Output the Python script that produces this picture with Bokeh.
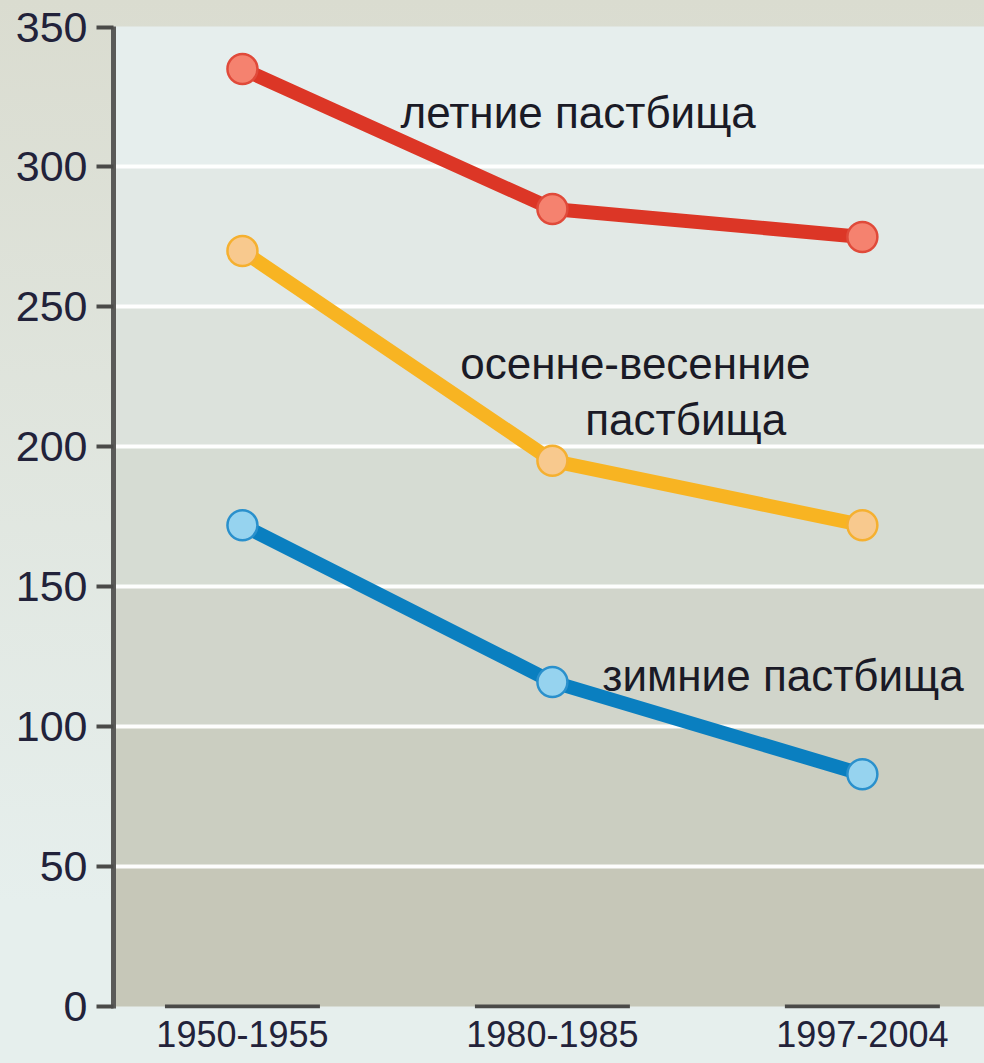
from bokeh.plotting import figure
from bokeh.models import FixedTicker, Range1d
from bokeh.core.properties import value
from bokeh.embed import file_html
from bokeh.resources import INLINE

# ---- data ----
periods = ["1950-1955", "1980-1985", "1997-2004"]
summer = [335, 285, 275]
spring_autumn = [270, 195, 172]
winter = [172, 116, 83]
y_ticks = [0, 50, 100, 150, 200, 250, 300, 350]
grid_ticks = [50, 100, 150, 200, 250, 300]
band_colors = ["#c6c7b8", "#cbcec1", "#d1d5cb", "#d6dcd3", "#dce2dc", "#e2e9e6", "#e6eeed"]

xs = list(range(len(periods)))

p = figure(width=984, height=1063, output_backend="svg", toolbar_location=None,
           x_range=Range1d(-0.416, 2.394), y_range=Range1d(-0.7, 350.2),
           min_border_left=113, min_border_right=0, min_border_top=26, min_border_bottom=55)
p.border_fill_color = None
p.background_fill_color = "#e6eeed"
p.outline_line_color = None
p.styles = {"background": "linear-gradient(to bottom, #dadcd0 0%, #e6efed 85%)"}

# background bands
bands = p.quad(left=-1, right=3, bottom=y_ticks[:-1], top=y_ticks[1:],
               fill_color=band_colors, line_color=None)
bands.level = "image"

# grid
p.xgrid.visible = False
p.ygrid.ticker = FixedTicker(ticks=grid_ticks)
p.ygrid.grid_line_color = "white"
p.ygrid.grid_line_width = 4
p.ygrid.grid_line_alpha = 0.95

# bottom category bars
p.segment(x0=[x - 0.25 for x in xs], x1=[x + 0.25 for x in xs], y0=[0] * 3, y1=[0] * 3,
          line_color="#4a4a48", line_width=4)

# series
series = [
    (summer, "#dc3626", "#f5826f", "#e04a3a"),
    (spring_autumn, "#f8b422", "#f8c98e", "#f5b030"),
    (winter, "#0a7fc0", "#96d3ef", "#2a90cc"),
]
for vals, lc, fc, oc in series:
    p.line(xs, vals, line_color=lc, line_width=14)
    p.scatter(xs, vals, size=30, fill_color=fc, line_color=oc, line_width=2.5)

# labels
labels = [
    (0.510, 319.4, "летние пастбища"),
    (0.703, 229.8, "осенне-весенние"),
    (1.106, 209.7, "пастбища"),
    (1.161, 118.3, "зимние пастбища"),
]
p.text(x=[l[0] for l in labels], y=[l[1] for l in labels], text=[l[2] for l in labels],
       text_font=value("Liberation Sans"), text_font_size="44px", text_color="#1a1a26",
       text_align="left", text_baseline="alphabetic")

# axes
p.yaxis.ticker = FixedTicker(ticks=y_ticks)
p.yaxis.axis_line_color = "#5a5a58"
p.yaxis.axis_line_width = 5
p.yaxis.major_tick_line_color = "#4a4a48"
p.yaxis.major_tick_line_width = 4
p.yaxis.major_tick_out = 17
p.yaxis.major_tick_in = 0
p.yaxis.minor_tick_line_color = None
p.yaxis.major_label_standoff = 9
p.yaxis.major_label_text_font = "Liberation Sans"
p.yaxis.major_label_text_font_size = "43px"
p.yaxis.major_label_text_color = "#22223a"

p.xaxis.ticker = FixedTicker(ticks=xs)
p.xaxis.major_label_overrides = {i: s for i, s in enumerate(periods)}
p.xaxis.axis_line_color = None
p.xaxis.major_tick_line_color = None
p.xaxis.minor_tick_line_color = None
p.xaxis.major_tick_out = 0
p.xaxis.major_tick_in = 0
p.xaxis.major_label_standoff = 12
p.xaxis.major_label_text_font = "Liberation Sans"
p.xaxis.major_label_text_font_size = "36px"
p.xaxis.major_label_text_color = "#22223a"

open("out.html", "w").write(file_html(p, INLINE))
